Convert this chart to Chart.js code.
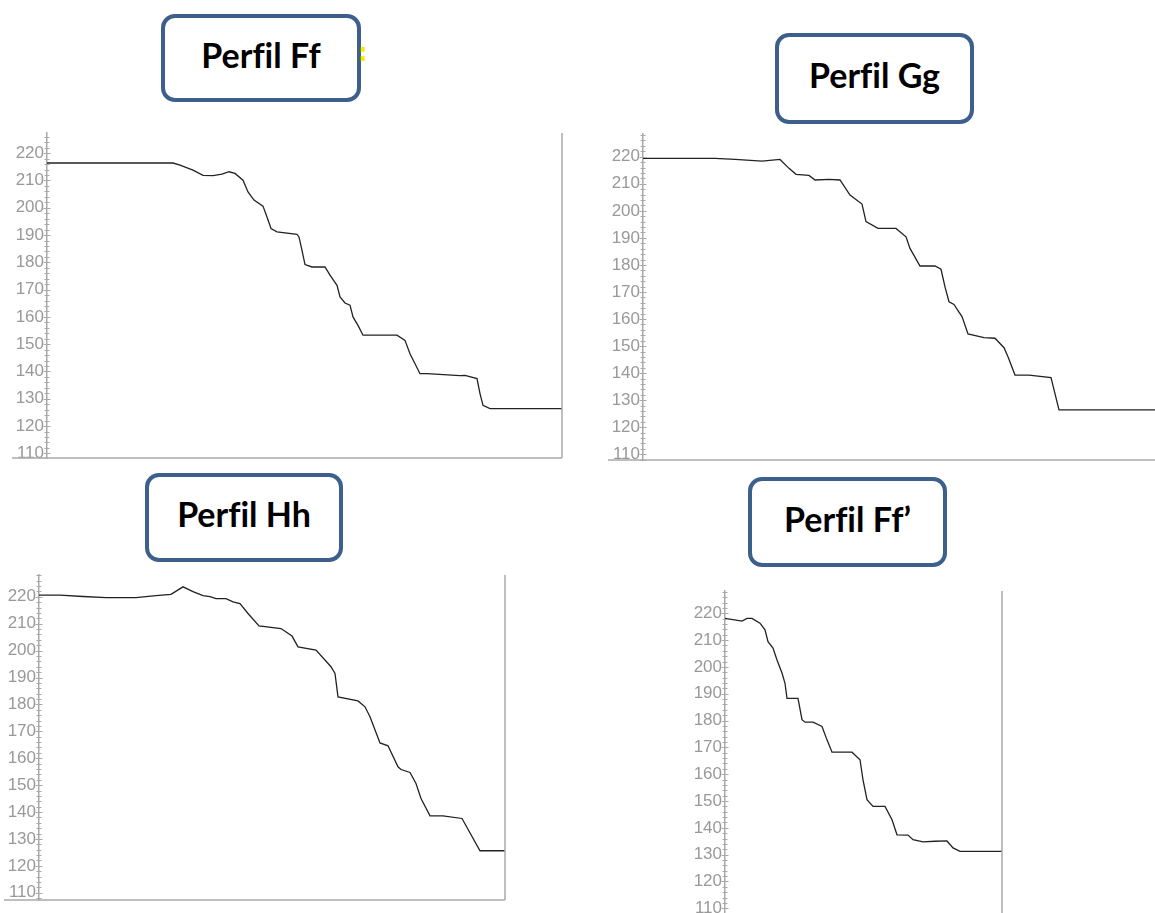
<!DOCTYPE html>
<html>
<head>
<meta charset="utf-8">
<title>Perfiles topográficos</title>
<script src="https://cdn.jsdelivr.net/npm/chart.js@4/dist/chart.umd.min.js"></script>
<style>
  html, body { margin: 0; padding: 0; background: #fff; }
  body { position: relative; width: 1155px; height: 913px; overflow: hidden; }
  .plot { position: absolute; }
  .title {
    position: absolute; box-sizing: border-box;
    border: 4px solid #3c5f8c; border-radius: 14px; background: #fff;
    display: flex; align-items: center; justify-content: center;
    font-family: Lato, "Open Sans", sans-serif; font-weight: 700; font-size: 34px;
    font-variant-ligatures: none; font-feature-settings: "liga" 0;
    color: #000; padding-bottom: 8px; z-index: 2; white-space: nowrap;
  }
  .mark {
    position: absolute; z-index: 3; line-height: 26px;
    font-family: "DejaVu Sans", sans-serif; font-weight: 700; font-size: 24px; color: #f7ec00;
  }
</style>
</head>
<body>
<script>
// Topographic cross-sections: distance along the section line vs. elevation (m)
const profileNames = ['Perfil Ff', 'Perfil Gg', 'Perfil Hh', 'Perfil Ff\u2019'];

const ffDistance  = [0, 126, 133, 146, 156, 166, 175, 182, 188, 196, 201, 207, 216, 220, 224, 230, 250, 252, 255, 258, 265, 278, 283, 290, 293, 298, 303, 306, 311, 316, 350, 358, 363, 373, 380, 413, 418, 430, 433, 436, 443, 515];
const ffElevation = [216.4, 216.4, 215.6, 213.8, 211.9, 211.8, 212.3, 213.2, 212.6, 210.1, 205.8, 202.8, 200.6, 196.6, 192.4, 191.2, 190.3, 189.3, 184.4, 179.2, 178.3, 178.3, 175.3, 171.6, 167.3, 165.1, 164.3, 160.0, 156.9, 153.3, 153.3, 151.4, 146.5, 139.2, 139.2, 138.5, 138.6, 137.4, 131.9, 127.6, 126.4, 126.4];

const ggDistance  = [0, 72, 92, 119, 137, 146, 153, 166, 172, 186, 197, 207, 219, 223, 235, 253, 263, 267, 277, 292, 298, 302, 306, 311, 315, 319, 325, 341, 352, 361, 365, 372, 386, 408, 416, 515];
const ggElevation = [219.4, 219.4, 219.0, 218.4, 219.0, 215.7, 213.5, 213.1, 211.4, 211.6, 211.4, 205.8, 202.5, 196.0, 193.5, 193.5, 190.4, 186.1, 179.6, 179.6, 178.4, 171.9, 166.4, 165.4, 163.1, 160.9, 154.5, 153.1, 152.9, 149.4, 146.1, 139.3, 139.3, 138.4, 126.4, 126.4];

const hhDistance  = [0, 21, 44, 67, 97, 117, 132, 144, 154, 164, 171, 177, 187, 194, 201, 209, 220, 242, 253, 259, 277, 292, 296, 299, 319, 326, 331, 341, 349, 359, 362, 371, 377, 382, 391, 404, 423, 441, 466];
const hhElevation = [220.6, 220.6, 220.1, 219.7, 219.7, 220.4, 220.9, 223.7, 221.9, 220.4, 220.1, 219.3, 219.3, 218.1, 217.5, 213.8, 209.2, 208.2, 205.4, 201.4, 200.2, 194.0, 191.5, 182.8, 181.3, 179.1, 175.4, 165.7, 164.6, 156.8, 155.8, 154.7, 150.6, 145.0, 138.6, 138.6, 137.6, 125.6, 125.6];

const ff2Distance  = [0, 17, 22, 27, 35, 40, 43, 48, 52, 57, 60, 62, 73, 77, 80, 88, 97, 102, 107, 127, 135, 138, 142, 148, 160, 167, 172, 183, 188, 198, 210, 222, 228, 235, 277];
const ff2Elevation = [218.1, 217.1, 218.1, 218.1, 216.3, 213.8, 209.4, 207.0, 202.6, 197.7, 193.9, 188.3, 188.3, 180.3, 179.4, 179.4, 177.8, 172.8, 168.2, 168.2, 165.4, 157.9, 150.5, 148.0, 148.0, 143.0, 137.4, 137.3, 135.6, 134.8, 135.0, 135.1, 132.5, 131.2, 131.2];

// Elevation axis: range of each panel, minor tick step and labelled step
const elevationMin = [108.3, 107.9, 107.3, 107.5];
const elevationMax = [227.4, 228.4, 228.1, 228.3];
const minorStep = 2;
const labelStep = 10;

const series = [
  [ffDistance, ffElevation],
  [ggDistance, ggElevation],
  [hhDistance, hhElevation],
  [ff2Distance, ff2Elevation]
];

// Page layout: plot-area edges, canvas left edge and title box [left, top, width, height]
const layout = [
  { left: 47,  right: 562,  top: 133, bottom: 458, canvasLeft: 0,   title: [161, 14, 200, 88] },
  { left: 643, right: 1158, top: 134, bottom: 460, canvasLeft: 595, title: [775, 33, 199, 91] },
  { left: 39,  right: 505,  top: 575, bottom: 900, canvasLeft: 0,   title: [145, 473, 198, 89] },
  { left: 725, right: 1002, top: 591, bottom: 915, canvasLeft: 680, title: [748, 477, 199, 90] }
];
const PAD_V = 20, PAD_R = 4, FRAME = '#a9a9a9';

// Axis ticks crossing the axis line, bottom rule and right frame line
const framePlugin = {
  id: 'frame',
  afterDraw(chart) {
    const { ctx, chartArea: a, scales: { y } } = chart;
    ctx.save();
    ctx.strokeStyle = FRAME;
    ctx.lineWidth = 1;
    y.ticks.forEach(t => {
      const py = Math.round(y.getPixelForValue(t.value)) + 0.5;
      const major = Math.abs(t.value % labelStep) < 1e-6;
      const half = major ? 3.5 : 2.5;
      ctx.beginPath();
      ctx.moveTo(a.left - half, py);
      ctx.lineTo(a.left + half, py);
      ctx.stroke();
    });
    ctx.lineWidth = 1.5;
    ctx.beginPath();
    ctx.moveTo(a.left - 35, a.bottom);
    ctx.lineTo(a.right, a.bottom);
    ctx.moveTo(a.right, a.top);
    ctx.lineTo(a.right, a.bottom);
    ctx.stroke();
    ctx.restore();
  }
};

series.forEach(([dist, elev], i) => {
  const L = layout[i];
  const canvas = document.createElement('canvas');
  const w = L.right + PAD_R - L.canvasLeft;
  const h = L.bottom - L.top + 2 * PAD_V;
  canvas.width = w; canvas.height = h;
  canvas.className = 'plot';
  canvas.style.left = L.canvasLeft + 'px';
  canvas.style.top = (L.top - PAD_V) + 'px';
  canvas.style.width = w + 'px';
  canvas.style.height = h + 'px';
  document.body.appendChild(canvas);

  const axisWidth = L.left - L.canvasLeft;

  new Chart(canvas, {
    type: 'line',
    data: {
      datasets: [{
        label: profileNames[i],
        data: dist.map((d, k) => ({ x: d, y: elev[k] })),
        borderColor: '#222',
        borderWidth: 1.3,
        pointRadius: 0,
        tension: 0,
        fill: false
      }]
    },
    options: {
      responsive: false,
      animation: false,
      devicePixelRatio: 1,
      layout: { padding: { top: PAD_V, bottom: PAD_V, left: 0, right: PAD_R } },
      plugins: { legend: { display: false }, tooltip: { enabled: false } },
      scales: {
        x: { type: 'linear', display: false, min: 0, max: dist[dist.length - 1] },
        y: {
          type: 'linear',
          min: elevationMin[i],
          max: elevationMax[i],
          afterFit(scale) { scale.width = axisWidth; },
          grid: { display: false, drawTicks: false, drawOnChartArea: false },
          border: { display: true, color: FRAME, width: 1.5 },
          ticks: {
            stepSize: minorStep,
            autoSkip: false,
            includeBounds: false,
            padding: 3,
            color: '#999',
            font: { family: '"Liberation Sans", Arial, sans-serif', size: 17 },
            callback: v => (Math.abs(v % labelStep) < 1e-6 ? String(v) : '')
          }
        }
      }
    },
    plugins: [framePlugin]
  });

  const t = document.createElement('div');
  t.className = 'title';
  t.textContent = profileNames[i];
  const [tl, tt, tw, th] = L.title;
  Object.assign(t.style, { left: tl + 'px', top: tt + 'px', width: tw + 'px', height: th + 'px' });
  document.body.appendChild(t);
});

// small yellow colon beside the first title box
const mark = document.createElement('div');
mark.className = 'mark';
mark.textContent = ':';
Object.assign(mark.style, { left: '358px', top: '40px' });
document.body.appendChild(mark);
</script>
</body>
</html>
